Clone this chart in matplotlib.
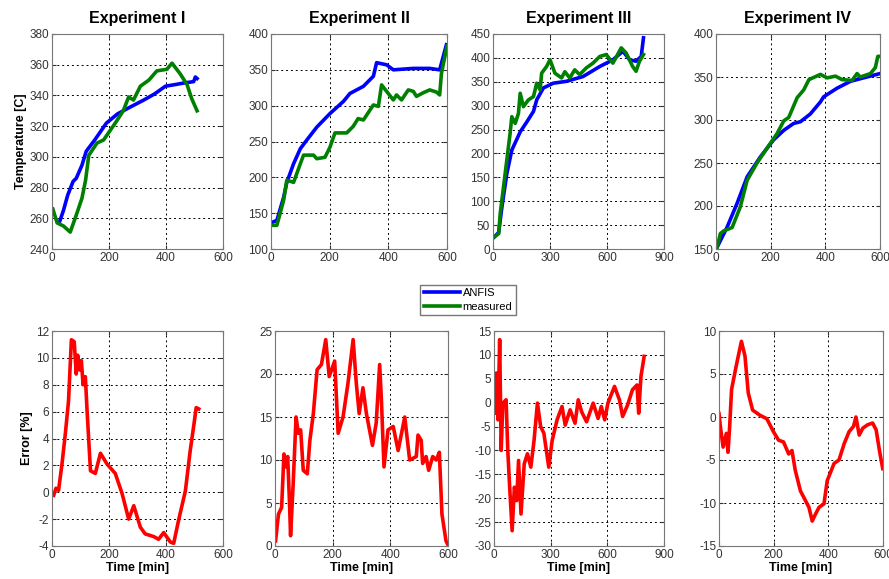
import matplotlib.pyplot as plt

plt.rcParams['font.family'] = ['Liberation Sans', 'DejaVu Sans']
plt.rcParams['axes.unicode_minus'] = False

titles = ["Experiment I", "Experiment II", "Experiment III", "Experiment IV"]

# --- temperature, top row ---
e1_anfis_t = [27, 40, 55, 74, 85, 105, 120, 150, 191, 230, 270, 322, 360, 398, 430, 460, 497, 503, 509]
e1_anfis_v = [258, 265, 275, 284, 286, 294.5, 303.6, 311, 322, 328, 332, 337, 341, 346, 347, 348, 349, 352, 351]
e1_meas_t = [3, 18, 40, 64, 85, 105, 118, 129, 158, 181, 222, 250, 269, 286, 310, 340, 368, 403, 421, 450, 474, 490, 509]
e1_meas_v = [266, 257, 255, 251, 262, 273, 285, 301, 309, 311, 322, 330, 339, 337, 346, 350, 356, 357, 361, 354, 347, 338, 330]

e2_anfis_t = [3, 20, 43, 54, 77, 100, 122, 156, 201, 247, 269, 315, 349, 360, 394, 417, 485, 541, 575, 598]
e2_anfis_v = [137, 140, 172, 193, 219, 240, 252, 270, 289, 306, 317, 327, 341, 360, 357, 350, 352, 352, 350, 385]
e2_meas_t = [3, 20, 43, 54, 77, 100, 111, 145, 156, 184, 201, 218, 258, 280, 297, 315, 349, 366, 377, 394, 417,
             428, 445, 468, 485, 496, 519, 541, 564, 575, 581, 600]
e2_meas_v = [133, 133, 168, 196, 193, 219, 231, 231, 226, 228, 242, 262, 262, 271, 282, 280, 301, 299, 329, 320, 308,
             315, 308, 322, 320, 313, 318, 322, 319, 315, 345, 383]

e3_anfis_t = [7, 30, 47, 73, 99, 143, 178, 213, 230, 265, 317, 387, 474, 562, 631, 684, 719, 753, 780, 792]
e3_anfis_v = [25, 35, 88, 158, 207, 245, 266, 288, 312, 337, 347, 351, 361, 382, 396, 414, 396, 393, 403, 442]
e3_meas_t = [3, 30, 38, 64, 90, 99, 117, 134, 143, 160, 186, 213, 230, 248, 256, 282, 300, 326, 361, 378, 404,
             430, 456, 491, 526, 562, 596, 631, 675, 701, 735, 753, 771, 792]
e3_meas_v = [25, 32, 74, 158, 242, 277, 263, 284, 326, 298, 312, 319, 347, 333, 368, 382, 396, 368, 358, 371, 358,
             375, 365, 379, 389, 403, 407, 389, 421, 410, 382, 372, 393, 407]

e4_anfis_t = [4, 40, 77, 114, 162, 211, 248, 284, 309, 345, 382, 394, 443, 492, 552, 600]
e4_anfis_v = [152, 175, 203, 234, 257, 277, 288, 296, 298, 307, 321, 327, 337, 345, 350, 354]
e4_meas_t = [4, 16, 28, 59, 89, 114, 150, 199, 223, 248, 266, 297, 321, 340, 382, 407, 437, 461, 498, 516, 528,
             565, 583, 592, 600]
e4_meas_v = [152, 168, 171, 175, 199, 230, 250, 273, 284, 299, 303, 326, 335, 347, 353, 349, 351, 347, 346, 354, 350,
             354, 361, 374, 374]

# --- error, bottom row ---
e1_err_t = [6, 14, 23, 35, 47, 58, 68, 78, 85, 90, 97, 103, 109, 117, 123, 135, 152, 170, 193, 222, 246, 269, 287,
            310, 327, 357, 374, 392, 415, 427, 444, 468, 485, 497, 506, 515]
e1_err_v = [-0.23, 0.3, 0.14, 2.1, 4.4, 6.8, 11.35, 11.2, 8.8, 10.2, 9.1, 9.8, 8.0, 8.6, 6.1, 1.6, 1.4, 2.9, 2.1, 1.4,
            -0.1, -2.0, -1.0, -2.6, -3.1, -3.3, -3.5, -3.0, -3.7, -3.8, -2.1, 0.1, 3.1, 4.9, 6.3, 6.2]

e2_err_t = [2, 12, 23, 31, 38, 44, 50, 54, 63, 73, 81, 89, 98, 112, 121, 133, 146, 161, 176, 188, 207, 219, 236, 253,
            271, 282, 292, 305, 317, 338, 351, 363, 369, 378, 392, 410, 427, 450, 467, 490, 496, 507, 512, 524, 533,
            547, 559, 570, 579, 593, 599]
e2_err_v = [0.6, 3.7, 4.5, 10.7, 9.2, 10.4, 5.3, 1.2, 7.2, 15.0, 13.1, 13.5, 8.8, 8.4, 12.3, 15.4, 20.5, 21.1, 24.0,
            19.7, 21.5, 13.1, 15.0, 18.9, 24.0, 18.9, 15.4, 18.4, 15.4, 11.7, 14.3, 21.1, 17.0, 9.2, 13.5, 13.9, 11.1,
            15.0, 10.0, 10.4, 12.9, 12.3, 9.6, 10.4, 8.8, 10.4, 10.0, 10.9, 3.7, 0.6, 0.2]

e3_err_t = [3, 12, 21, 30, 38, 47, 64, 73, 82, 96, 108, 120, 130, 143, 160, 177, 195, 212, 230, 247, 264, 290, 308,
            334, 360, 377, 403, 429, 446, 464, 490, 525, 551, 568, 586, 603, 638, 664, 681, 707, 733, 757, 766, 778,
            795]
e3_err_v = [-2.2, 6.2, -3.6, 13.2, -10.0, -0.1, 0.6, -10.0, -17.0, -26.8, -17.7, -20.5, -12.1, -23.3, -12.8, -10.7,
            -13.5, -7.9, -0.1, -5.0, -6.4, -13.5, -7.9, -3.6, -0.8, -4.7, -1.5, -4.3, 0.6, -1.9, -4.0, -0.1, -3.3,
            -0.8, -3.6, -0.1, 3.4, 0.6, -2.9, -0.5, 2.7, 3.7, -2.2, 5.5, 9.7]

e4_err_t = [0, 5, 15, 27, 33, 39, 46, 54, 64, 82, 95, 107, 123, 150, 175, 199, 218, 236, 255, 267, 279, 298, 316,
            329, 341, 353, 366, 384, 396, 421, 439, 458, 476, 492, 501, 513, 526, 544, 562, 575, 587, 599]
e4_err_v = [0.4, -1.1, -3.5, -1.9, -4.1, -1.1, 3.2, 4.5, 6.1, 8.8, 7.1, 2.8, 0.8, 0.2, -0.2, -1.7, -2.7, -2.9, -4.3,
            -3.9, -6.2, -8.6, -9.7, -10.5, -12.1, -11.3, -10.5, -10.1, -7.4, -5.4, -5.0, -3.1, -1.7, -1.1, 0.0, -2.1,
            -1.3, -0.9, -0.7, -1.5, -3.9, -6.0]

temps = [(e1_anfis_t, e1_anfis_v, e1_meas_t, e1_meas_v),
         (e2_anfis_t, e2_anfis_v, e2_meas_t, e2_meas_v),
         (e3_anfis_t, e3_anfis_v, e3_meas_t, e3_meas_v),
         (e4_anfis_t, e4_anfis_v, e4_meas_t, e4_meas_v)]
errors = [(e1_err_t, e1_err_v), (e2_err_t, e2_err_v), (e3_err_t, e3_err_v), (e4_err_t, e4_err_v)]

top_xlim = [(0, 600), (0, 600), (0, 900), (0, 600)]
top_ylim = [(240, 380), (100, 400), (0, 450), (150, 400)]
top_xticks = [[0, 200, 400, 600], [0, 200, 400, 600], [0, 300, 600, 900], [0, 200, 400, 600]]
top_yticks = [range(240, 381, 20), range(100, 401, 50), range(0, 451, 50), range(150, 401, 50)]
bot_ylim = [(-4, 12), (0, 25), (-30, 15), (-15, 10)]
bot_yticks = [range(-4, 13, 2), range(0, 26, 5), range(-30, 16, 5), range(-15, 11, 5)]

W, H = 889, 579
top_boxes = [(52, 171), (271, 176), (493, 171), (716, 164)]
bot_boxes = [(52, 171), (275, 173), (494, 170), (719, 164)]


def style(ax):
    ax.grid(True, color='black', linestyle=(0, (2, 3)), linewidth=0.7)
    ax.tick_params(direction='in', length=3, labelsize=8.5, colors='#333333', top=True, right=True, pad=2)
    for s in ax.spines.values():
        s.set_color('#777777')
        s.set_linewidth(0.8)


fig = plt.figure(figsize=(W / 100, H / 100), dpi=100)

for i in range(4):
    l, w = top_boxes[i]
    ax = fig.add_axes([l / W, 1 - 249 / H, w / W, 215 / H])
    at, av, mt, mv = temps[i]
    la, = ax.plot(at, av, color='#0000ff', lw=2.6, label='ANFIS')
    lm, = ax.plot(mt, mv, color='#008000', lw=2.6, label='measured')
    ax.set_xlim(top_xlim[i])
    ax.set_ylim(top_ylim[i])
    ax.set_xticks(top_xticks[i])
    ax.set_yticks(list(top_yticks[i]))
    ax.set_title(titles[i], fontsize=11.5, fontweight='bold', pad=8)
    style(ax)
    if i == 0:
        ax.set_ylabel('Temperature [C]', fontsize=9, fontweight='bold', labelpad=2)
        handles = [la, lm]

for i in range(4):
    l, w = bot_boxes[i]
    ax = fig.add_axes([l / W, 1 - 546 / H, w / W, 215 / H])
    t, v = errors[i]
    ax.plot(t, v, color='#ff0000', lw=2.6)
    ax.set_xlim(top_xlim[i])
    ax.set_ylim(bot_ylim[i])
    ax.set_xticks(top_xticks[i])
    ax.set_yticks(list(bot_yticks[i]))
    ax.set_xlabel('Time [min]', fontsize=9, fontweight='bold', labelpad=1)
    style(ax)
    if i == 0:
        ax.set_ylabel('Error [%]', fontsize=9, fontweight='bold', labelpad=2)

fig.legend(handles, ['ANFIS', 'measured'], loc='center', bbox_to_anchor=(468 / W, 1 - 300 / H),
           fontsize=8, frameon=True, fancybox=False, edgecolor='#555555', handlelength=3.3,
           handletextpad=0.2, borderpad=0.3, labelspacing=0.3)

fig.savefig('out.png', dpi=100)
